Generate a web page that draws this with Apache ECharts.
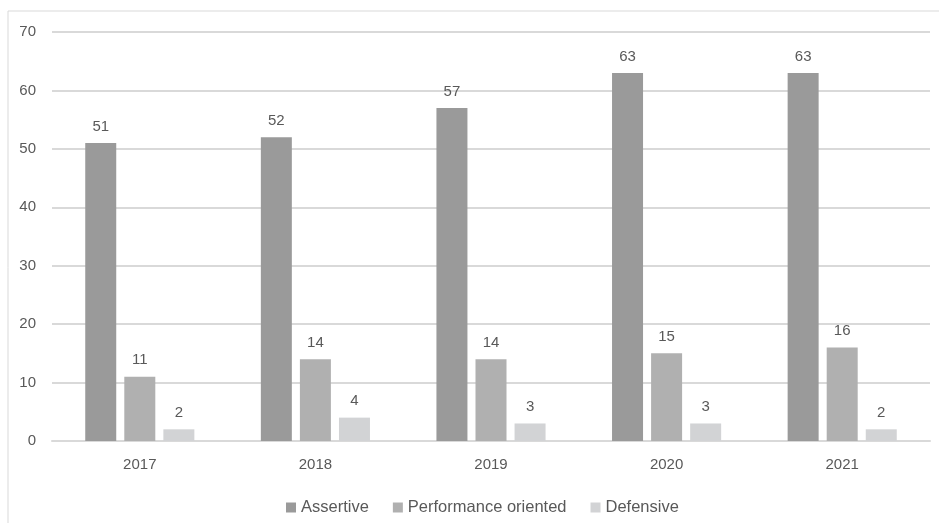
<!DOCTYPE html>
<html>
<head>
<meta charset="utf-8">
<script src="https://cdn.jsdelivr.net/npm/echarts@6/dist/echarts.min.js"></script>
<style>html,body{margin:0;padding:0;background:#fff;}#c{width:939px;height:523px;}</style>
</head>
<body>
<div id="c"></div>
<script>
const categories = ['2017', '2018', '2019', '2020', '2021'];
const assertive = [51, 52, 57, 63, 63];
const performance = [11, 14, 14, 15, 16];
const defensive = [2, 4, 3, 3, 2];
const seriesNames = ['Assertive', 'Performance oriented', 'Defensive'];

const chart = echarts.init(document.getElementById('c'));
const font = '"Liberation Sans", Arial, sans-serif';
const txt = '#595959';
const labelCfg = { show: true, position: 'top', distance: 9, color: txt, fontSize: 15, fontFamily: font };
function mk(name, data, color) {
  return { name, type: 'bar', data, barWidth: 31, barGap: '26%', itemStyle: { color }, label: labelCfg, animation: false };
}
chart.setOption({
  animation: false,
  graphic: [{ type: 'rect', shape: { x: 8, y: 11, width: 1200, height: 1200 }, style: { fill: 'none', stroke: '#d9d9d9', lineWidth: 1 }, silent: true }],
  grid: { left: 52, right: 9, top: 32, bottom: 82 },
  legend: {
    data: seriesNames, top: 494, left: 281, icon: 'rect', itemWidth: 10, itemHeight: 10, itemGap: 24,
    textStyle: { color: txt, fontSize: 16.5, fontFamily: font }
  },
  xAxis: {
    type: 'category', data: categories,
    axisLine: { lineStyle: { color: '#d9d9d9', width: 2 } }, axisTick: { show: false },
    axisLabel: { color: txt, fontSize: 15, fontFamily: font, margin: 16 }
  },
  yAxis: {
    type: 'value', min: 0, max: 70, interval: 10,
    axisLine: { show: false }, axisTick: { show: false },
    splitLine: { lineStyle: { color: '#d9d9d9', width: 2 } },
    axisLabel: { color: txt, fontSize: 15, fontFamily: font, margin: 16 }
  },
  series: [mk(seriesNames[0], assertive, '#9a9a9a'), mk(seriesNames[1], performance, '#b0b0b0'), mk(seriesNames[2], defensive, '#d2d3d5')]
});
</script>
</body>
</html>
